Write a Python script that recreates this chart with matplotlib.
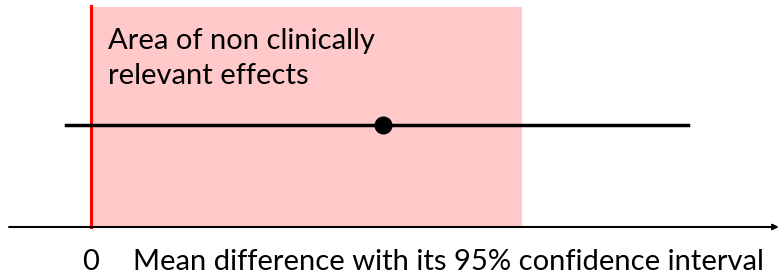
import matplotlib
matplotlib.use("Agg")
import matplotlib.pyplot as plt
from matplotlib.patches import Rectangle

# Data (arbitrary units, 0 = no effect, margin = 1)
null_value = 0.0
margin = 1.0
ci_lower = -0.058
estimate = 0.677
ci_upper = 1.385

region_label_lines = ["Area of non clinically", "relevant effects"]
axis_label = "Mean difference with its 95% confidence interval"
zero_label = "0"

plt.rcParams['font.family'] = ['Lato', 'DejaVu Sans']

fig = plt.figure(figsize=(7.81, 2.74), dpi=100)
ax = fig.add_axes([0, 0, 1, 1])
ax.set_xlim(-0.211, 1.601)
ax.set_ylim(0, 274)
ax.axis('off')

axis_y = 47
ci_y = 149
top_y = 267
fs = 21

ax.add_patch(Rectangle((null_value, axis_y), margin - null_value, top_y - axis_y,
                       facecolor='#ffc9c9', edgecolor='none', zorder=1))
ax.plot([null_value, null_value], [axis_y, top_y + 1], color='#ff0000', lw=2.2, zorder=3)

ax.annotate('', xy=(1.596, axis_y), xytext=(-0.19, axis_y),
            arrowprops=dict(arrowstyle='-|>', color='black', lw=1.5,
                            mutation_scale=8, shrinkA=0, shrinkB=0), zorder=4)

ax.plot([ci_lower, ci_upper], [ci_y, ci_y], color='black', lw=2.5, zorder=4)
ax.plot([estimate], [ci_y], 'o', color='black', markersize=12, zorder=5)

for i, line in enumerate(region_label_lines):
    ax.text(0.039, 225 - 35 * i, line, fontsize=fs, ha='left', va='baseline',
            color='black', zorder=6)
ax.text(null_value, 4, zero_label, fontsize=fs, ha='center', va='baseline', color='black')
ax.text(0.098, 4, axis_label, fontsize=fs, ha='left', va='baseline', color='black')

fig.savefig('out.png', dpi=100)
